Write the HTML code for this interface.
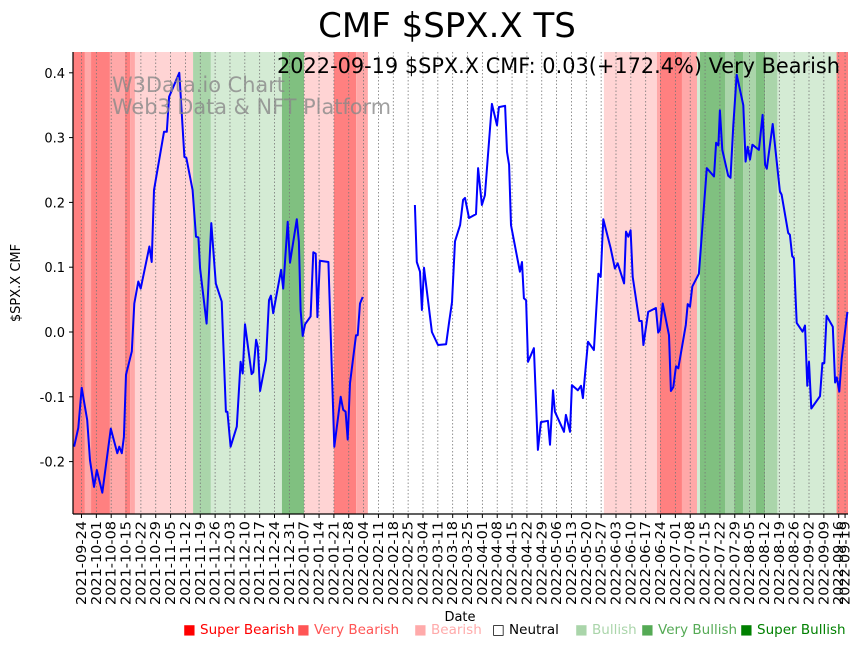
<!DOCTYPE html>
<html><head><meta charset="utf-8"><style>
body{margin:0;background:#fff;font-family:"Liberation Sans","DejaVu Sans",sans-serif;}
svg text{font-family:"DejaVu Sans","Liberation Sans",sans-serif;}
</style></head><body>
<svg id="chart" width="867" height="646" xmlns="http://www.w3.org/2000/svg">
<text x="447" y="37" font-size="34" text-anchor="middle" fill="#000">CMF $SPX.X TS</text>
<g id="bands"></g>
<g id="grid"></g>
<g id="line"></g>
<text x="112" y="92" font-size="21" fill="#888" fill-opacity="0.8" textLength="173" lengthAdjust="spacingAndGlyphs">W3Data.io Chart</text>
<text x="112" y="114" font-size="21" fill="#888" fill-opacity="0.8" textLength="279" lengthAdjust="spacingAndGlyphs">Web3 Data &amp; NFT Platform</text>
<text x="277" y="73" font-size="21" fill="#000" textLength="563" lengthAdjust="spacingAndGlyphs">2022-09-19 $SPX.X CMF: 0.03(+172.4%) Very Bearish</text>
<g id="axes"></g>
<text transform="translate(20,283) rotate(-90)" font-size="13" text-anchor="middle">$SPX.X CMF</text>
<text x="460" y="621" font-size="13" text-anchor="middle">Date</text>
<g font-size="13.5">
<text x="183" y="634" fill="#ff0000">■ Super Bearish</text>
<text x="297" y="634" fill="#ff5555">■ Very Bearish</text>
<text x="414" y="634" fill="#ffaaaa">■ Bearish</text>
<text x="492" y="634" fill="#000">□ Neutral</text>
<text x="575" y="634" fill="#aad5aa">■ Bullish</text>
<text x="641" y="634" fill="#55aa55">■ Very Bullish</text>
<text x="740" y="634" fill="#008000">■ Super Bullish</text>
</g>
</svg>
<script>
// day offsets from 2021-09-24
const lineDays=[-3.5,-1.5,0.1,2.7,4,5.9,7.2,9.8,13.8,16.9,17.8,19,20,21,23.7,24.9,26.8,27.9,32,33.1,34.2,38.9,40.2,41.3,46.1,48.5,49.4,52.4,54,55.1,55.9,59,61.2,63.3,66.1,68.1,68.8,70.3,73.2,75,76,77.1,80.2,81,82.3,83.1,84.2,87,88.4,89.3,90.4,94.1,95.1,97.2,98.3,101.5,102.5,103.3,104.3,105.4,108,109.3,110.4,111.2,112.4,116.4,119.2,122.2,123.4,124.5,125.5,126.6,129.4,130.2,131.3,132.6,
null,
157.2,158.1,159.6,160.5,161.5,165.2,168.1,171.9,173.3,174.7,176.1,178.5,179.9,180.8,182.7,186,187,188.8,190.2,193.5,195.9,196.8,199.7,200.6,201.6,202.5,206.7,207.7,208.6,209.6,210.5,213.3,215.2,216.6,219.9,220.9,222.3,223.2,227.5,228.4,230.3,231.2,234,235.5,236.4,238.8,241.6,243.7,244.8,246,249.5,251.5,252.8,255.8,256.7,257.8,258.9,259.9,263,264.1,264.9,267.2,270.8,271.9,272.7,274,277,277.9,279,280.3,281.4,284.9,285.8,286.9,288,291.1,294.8,298.2,299.2,300.3,301,302.1,304.9,306,307.3,308.9,312,313.1,314.1,315.2,316.3,319.4,321.1,322.3,323.1,325.9,329.3,330.1,333.2,334,335.1,335.9,337.2,340,341.1,342.2,343,344.1,348.2,349.3,350.2,351.3,354.2,355.3,356.1,357.3,358.4,361.1];
const lineValues=[-0.177,-0.148,-0.086,-0.136,-0.198,-0.239,-0.213,-0.248,-0.149,-0.187,-0.177,-0.187,-0.162,-0.066,-0.030,0.044,0.078,0.067,0.132,0.108,0.219,0.309,0.309,0.363,0.400,0.270,0.269,0.219,0.147,0.146,0.098,0.013,0.168,0.075,0.047,-0.123,-0.123,-0.177,-0.146,-0.046,-0.064,0.012,-0.065,-0.062,-0.012,-0.023,-0.091,-0.043,0.049,0.056,0.029,0.096,0.067,0.170,0.107,0.174,0.139,0.034,-0.006,0.012,0.024,0.123,0.121,0.023,0.110,0.108,-0.177,-0.100,-0.120,-0.123,-0.166,-0.079,-0.005,-0.005,0.044,0.054,
null,
0.196,0.108,0.093,0.034,0.099,0.0,-0.02,-0.019,0.015,0.046,0.140,0.165,0.204,0.207,0.176,0.182,0.253,0.196,0.211,0.352,0.319,0.347,0.349,0.278,0.258,0.165,0.093,0.108,0.052,0.049,-0.046,-0.025,-0.182,-0.139,-0.137,-0.174,-0.09,-0.123,-0.154,-0.128,-0.154,-0.082,-0.09,-0.083,-0.102,-0.015,-0.028,0.090,0.085,0.174,0.129,0.098,0.106,0.075,0.155,0.147,0.157,0.085,0.017,0.017,-0.020,0.031,0.037,-0.001,0.003,0.044,-0.005,-0.091,-0.085,-0.053,-0.056,0.011,0.043,0.039,0.070,0.090,0.253,0.240,0.292,0.288,0.342,0.281,0.241,0.238,0.319,0.397,0.350,0.263,0.286,0.266,0.289,0.281,0.335,0.258,0.252,0.321,0.217,0.212,0.153,0.150,0.117,0.114,0.014,0.0005,0.010,-0.083,-0.046,-0.118,-0.099,-0.048,-0.048,0.025,0.008,-0.078,-0.070,-0.092,-0.041,0.031];
const bandStart=[-4,1.6,4.5,13.4,20.5,22.9,25.2,52.6,61,94.5,104.9,119,129.5,246.3,271.3,272.7,283.1,290.2,291.6,303.4,307.7,311.9,318,322.3,328.1,356];
const bandEnd=[1.6,4.5,13.4,20.5,22.9,25.2,52.6,61,94.5,104.9,119,129.5,135,271.3,272.7,283.1,290.2,291.6,303.4,307.7,311.9,318,322.3,328.1,356,361.6];
const bandLevel=[-2,-1,-2,-1,-2,-1,-0.5,1,0.5,2,-0.5,-2,-1,-0.5,-1,-2,-1,0.5,2,1,2,1,2,1,0.5,-2];
const tickLabels=["2021-09-24","2021-10-01","2021-10-08","2021-10-15","2021-10-22","2021-10-29","2021-11-05","2021-11-12","2021-11-19","2021-11-26","2021-12-03","2021-12-10","2021-12-17","2021-12-24","2021-12-31","2022-01-07","2022-01-14","2022-01-21","2022-01-28","2022-02-04","2022-02-11","2022-02-18","2022-02-25","2022-03-04","2022-03-11","2022-03-18","2022-03-25","2022-04-01","2022-04-08","2022-04-15","2022-04-22","2022-04-29","2022-05-06","2022-05-13","2022-05-20","2022-05-27","2022-06-03","2022-06-10","2022-06-17","2022-06-24","2022-07-01","2022-07-08","2022-07-15","2022-07-22","2022-07-29","2022-08-05","2022-08-12","2022-08-19","2022-08-26","2022-09-02","2022-09-09","2022-09-16","2022-09-19"];
const tickDays=[0,7,14,21,28,35,42,49,56,63,70,77,84,91,98,105,112,119,126,133,140,147,154,161,168,175,182,189,196,203,210,217,224,231,238,245,252,259,266,273,280,287,294,301,308,315,322,329,336,343,350,357,360];
const yTicks=[-0.2,-0.1,0.0,0.1,0.2,0.3,0.4];

const NS="http://www.w3.org/2000/svg";
const L=73,R=848,T=52,B=514;
const xS=d=>81.5+d*2.121;
const yS=v=>332-v*648;
function mk(tag,attrs,parent){const e=document.createElementNS(NS,tag);for(const k in attrs)e.setAttribute(k,attrs[k]);parent.appendChild(e);return e;}
const colors={"-2":"#ff8080","-1":"#ffa8a8","-0.5":"#ffd4d4","0.5":"#d4ebd4","1":"#aad5aa","2":"#80c080"};
const bg=document.getElementById('bands');
for(let i=0;i<bandStart.length;i++){
  const x1=Math.max(L,xS(bandStart[i])),x2=Math.min(R,xS(bandEnd[i]));
  const r=mk('rect',{x:x1,y:T,width:x2-x1,height:B-T,fill:colors[String(bandLevel[i])]},bg);
  
  
}
const gg=document.getElementById('grid');
const ax=document.getElementById('axes');
for(let i=0;i<tickDays.length;i++){
  const x=xS(tickDays[i]);
  const g=mk('line',{x1:x,x2:x,y1:T,y2:B,stroke:'#777','stroke-width':0.8,'stroke-dasharray':'1.5,2'},gg);
  
  
  mk('line',{x1:x,x2:x,y1:B,y2:B+4,stroke:'#000','stroke-width':1},ax);
  const t=mk('text',{transform:`translate(${x+4.5},${B+7}) rotate(-90)`,'font-size':13.5,'text-anchor':'end',textLength:84,lengthAdjust:'spacingAndGlyphs'},ax);
  t.textContent=tickLabels[i];
  
  
}
for(const v of yTicks){
  const y=yS(v);
  mk('line',{x1:L-4,x2:L,y1:y,y2:y,stroke:'#000','stroke-width':1},ax);
  const t=mk('text',{x:L-8,y:y+5,'font-size':13,'text-anchor':'end'},ax);
  t.textContent=v.toFixed(1);
  
  
}
mk('line',{x1:L,x2:L,y1:T,y2:B,stroke:'#000','stroke-width':1.2},ax);
mk('line',{x1:L,x2:R,y1:B,y2:B,stroke:'#000','stroke-width':1.2},ax);
let d="",pen=false;
for(let i=0;i<lineDays.length;i++){
  if(lineDays[i]===null||lineValues[i]===null){pen=false;continue;}
  d+=(pen?"L":"M")+xS(lineDays[i]).toFixed(1)+","+yS(lineValues[i]).toFixed(1);
  pen=true;
}
const p=mk('path',{d:d,fill:'none',stroke:'#0000ff','stroke-width':2,'stroke-linejoin':'round'},document.getElementById('line'));


</script>
</body></html>
